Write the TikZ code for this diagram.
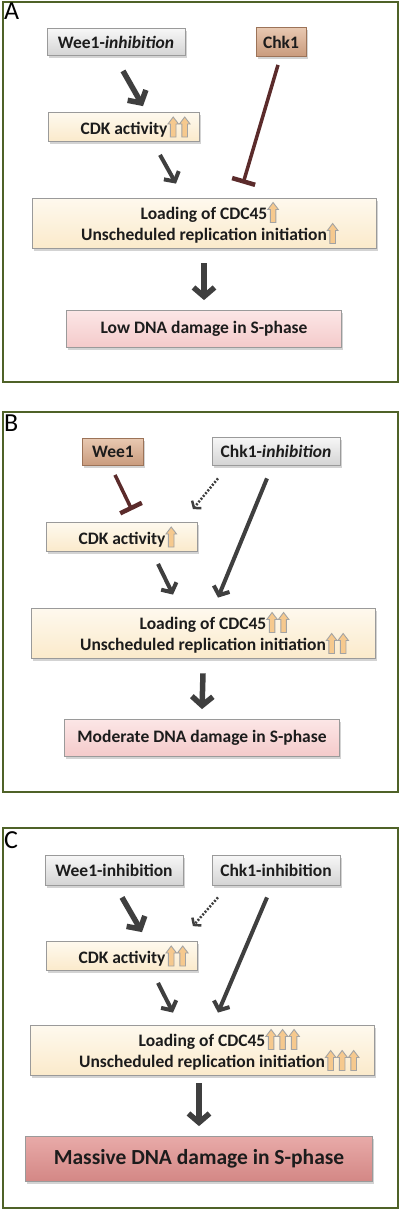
\documentclass[tikz,border=0pt]{standalone}
\usepackage{fontspec}
\setmainfont{Carlito}
\usetikzlibrary{arrows.meta,positioning,shadows}
\definecolor{cFrame}{HTML}{4F6228}
\definecolor{cInk}{HTML}{1C1C1C}
\definecolor{cEdge}{HTML}{9A9A9A}
\definecolor{cGrayT}{HTML}{F7F7F7}
\definecolor{cGrayB}{HTML}{D4D4D4}
\definecolor{cTanT}{HTML}{E8C8B1}
\definecolor{cTanB}{HTML}{C99B7D}
\definecolor{cTanE}{HTML}{9C7358}
\definecolor{cCreamT}{HTML}{FEF9EE}
\definecolor{cCreamB}{HTML}{FBEACB}
\definecolor{cPinkT}{HTML}{FCE6E6}
\definecolor{cPinkB}{HTML}{F4CACA}
\definecolor{cRoseT}{HTML}{E8AAA8}
\definecolor{cRoseB}{HTML}{D38785}
\definecolor{cArrow}{HTML}{3F3F3F}
\definecolor{cBlock}{HTML}{5B2B2B}
\definecolor{cUpFill}{HTML}{F6C98E}
\definecolor{cUpEdge}{HTML}{A3A3A3}
\newcommand{\hiarrow}{\tikz[baseline=3pt,x=1pt,y=1pt]{\filldraw[draw=cUpEdge,fill=cUpFill,line width=.9pt]
  (-2.8,0) -- (2.8,0) -- (2.8,13) -- (5.3,13) -- (0,20) -- (-5.3,13) -- (-2.8,13) -- cycle;}}
\tikzset{
  panel/.style={draw=cFrame,line width=2pt},
  letter/.style={anchor=north west,inner sep=0pt,font=\fontsize{26}{26}\selectfont,text=black},
  box/.style={draw=cEdge,line width=.8pt,inner sep=0pt,align=center,text=cInk,
              font=\bfseries\fontsize{17.5}{21}\selectfont,
              drop shadow={shadow xshift=1.5pt,shadow yshift=-2.5pt,opacity=.35}},
  greybox/.style={box,top color=cGrayT,bottom color=cGrayB},
  tanbox/.style={box,draw=cTanE,top color=cTanT,bottom color=cTanB},
  cdkbox/.style={box,top color=cCreamT,bottom color=cCreamB,minimum width=151pt,minimum height=29pt},
  loadbox/.style={box,top color=cCreamT,bottom color=cCreamB,minimum width=344pt,minimum height=50pt},
  dmgbox/.style={box,top color=cPinkT,bottom color=cPinkB,minimum width=275pt,minimum height=37pt},
  massbox/.style={box,top color=cRoseT,bottom color=cRoseB,minimum width=347pt,minimum height=45pt,
              font=\bfseries\fontsize{21.5}{24}\selectfont},
  fat/.style={draw=cArrow,line width=5.5pt,-{Straight Barb[length=9pt,width=21pt]}},
  mid/.style={draw=cArrow,line width=4pt,-{Straight Barb[length=7pt,width=17pt]}},
  hint/.style={draw=cArrow,line width=2.5pt,dash pattern=on 2pt off 1.6pt,
               -{Straight Barb[length=4.5pt,width=12pt]}},
  block/.style={draw=cBlock,line width=3.5pt,-{Bar[width=24pt,line width=4.5pt]}},
}

\begin{document}
\begin{tikzpicture}[x=1pt,y=-1pt]
  \useasboundingbox (0,0) rectangle (400,1210);
  % panel A
  \draw[panel] (3,2) rectangle (398,382);
  \node[letter] (labA) at (4,3) {A};
  \node[greybox,minimum width=138pt,minimum height=27pt] (weeA) at (116,42) {Wee1-\textit{inhibition}};
  \node[tanbox,minimum width=50pt,minimum height=29pt] (chkA) at (281,42) {Chk1};
  \node[cdkbox] (cdkA) at (124,127) {CDK activity\rlap{\hiarrow\hiarrow}};
  \node[loadbox] (loadA) at (204,223) {Loading of CDC45\rlap{\hiarrow}\\Unscheduled replication initiation\rlap{\hiarrow}};
  \node[dmgbox] (dmgA) at (204,329) {Low DNA damage in S-phase};
  \draw[fat] ([shift={(7,15)}]weeA.south) -- ([shift={(19,-6)}]cdkA.north);
  \draw[mid] ([shift={(36,13)}]cdkA.south) -- ([shift={(-28,-14)}]loadA.north);
  \draw[block] ([shift={(-3,8)}]chkA.south) -- ([shift={(39,-14)}]loadA.north);
  \draw[fat] ([shift={(0,15)}]loadA.south) -- ([shift={(0,-10)}]dmgA.north);

  % panel B
  \draw[panel] (3,412) rectangle (398,792);
  \node[letter] (labB) at (4,415) {B};
  \node[tanbox,minimum width=61pt,minimum height=27pt] (weeB) at (113,452) {Wee1};
  \node[greybox,minimum width=128pt,minimum height=28pt] (chkB) at (276,451) {Chk1-\textit{inhibition}};
  \node[cdkbox] (cdkB) at (122,537) {CDK activity\rlap{\hiarrow}};
  \node[loadbox] (loadB) at (203,633) {Loading of CDC45\rlap{\hiarrow\hiarrow}\\Unscheduled replication initiation\rlap{\hiarrow\hiarrow}};
  \node[dmgbox] (dmgB) at (202,738) {Moderate DNA damage in S-phase};
  \draw[block] ([shift={(2,9)}]weeB.south) -- ([shift={(10,-12)}]cdkB.north);
  \draw[hint] ([shift={(-58,13)}]chkB.south) -- ([shift={(-5,-13)}]cdkB.north east);
  \draw[mid] ([shift={(-9,13)}]chkB.south) -- ([shift={(15,-10)}]loadB.north);
  \draw[mid] ([shift={(36,12)}]cdkB.south) -- ([shift={(-30,-13)}]loadB.north);
  \draw[fat] ([shift={(0,15)}]loadB.south) -- ([shift={(0,-10)}]dmgB.north);

  % panel C
  \draw[panel] (3,828) rectangle (398,1208);
  \node[letter] (labC) at (4,831) {C};
  \node[greybox,minimum width=138pt,minimum height=30pt] (weeC) at (114,870) {Wee1-inhibition};
  \node[greybox,minimum width=128pt,minimum height=30pt] (chkC) at (276,870) {Chk1-inhibition};
  \node[cdkbox] (cdkC) at (122,956) {CDK activity\rlap{\hiarrow\hiarrow}};
  \node[loadbox] (loadC) at (202,1050) {Loading of CDC45\rlap{\hiarrow\hiarrow\hiarrow}\\Unscheduled replication initiation\rlap{\hiarrow\hiarrow\hiarrow}};
  \node[massbox] (dmgC) at (199,1159) {Massive DNA damage in S-phase};
  \draw[fat] ([shift={(8,12)}]weeC.south) -- ([shift={(20,-9)}]cdkC.north);
  \draw[hint] ([shift={(-58,12)}]chkC.south) -- ([shift={(-5,-15)}]cdkC.north east);
  \draw[mid] ([shift={(-9,12)}]chkC.south) -- ([shift={(16,-12)}]loadC.north);
  \draw[mid] ([shift={(36,12)}]cdkC.south) -- ([shift={(-29,-12)}]loadC.north);
  \draw[fat] ([shift={(-3,8)}]loadC.south) -- ([shift={(0,-10)}]dmgC.north);
\end{tikzpicture}
\end{document}
